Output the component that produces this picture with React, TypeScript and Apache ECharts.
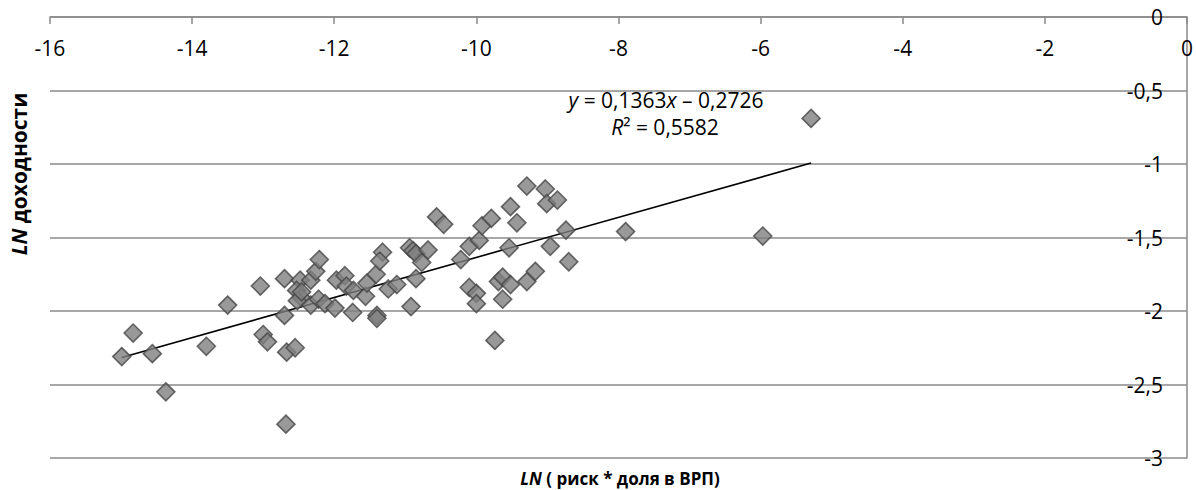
import React, { useEffect, useRef } from "react";
import * as echarts from "echarts";

// LN (риск * доля в ВРП)
const xValues = [
  -14.99, -14.83, -14.56, -14.37, -13.8, -13.5, -13.04, -13.0, -12.94, -12.7,
  -12.7, -12.67, -12.55, -12.68, -12.48, -12.53, -12.46, -12.52, -12.46, -12.33,
  -12.26, -12.21, -12.33, -12.22, -12.13, -11.99, -11.97, -11.85, -11.83, -11.73,
  -11.74, -11.56, -11.54, -11.41, -11.4, -11.4, -11.32, -11.36, -11.24, -11.12,
  -10.94, -10.89, -10.85, -10.68, -10.77, -10.85, -10.92, -10.56, -10.46, -10.22,
  -10.1, -9.96, -9.92, -9.79, -10.1, -10.0, -10.0, -9.69, -9.63, -9.52,
  -9.63, -9.74, -9.54, -9.52, -9.43, -9.29, -9.29, -9.17, -9.03, -9.01,
  -8.86, -8.96, -8.74, -8.7, -7.9, -5.97, -5.29,
];
// LN доходности
const yValues = [
  -2.31, -2.15, -2.29, -2.55, -2.24, -1.96, -1.83, -2.16, -2.21, -1.78,
  -2.03, -2.28, -2.25, -2.77, -1.79, -1.86, -1.91, -1.93, -1.87, -1.79,
  -1.73, -1.65, -1.96, -1.92, -1.95, -1.98, -1.79, -1.76, -1.83, -1.86,
  -2.01, -1.9, -1.81, -1.75, -2.03, -2.05, -1.6, -1.66, -1.85, -1.82,
  -1.57, -1.59, -1.61, -1.585, -1.67, -1.78, -1.97, -1.36, -1.41, -1.65,
  -1.56, -1.52, -1.42, -1.37, -1.84, -1.88, -1.95, -1.8, -1.77, -1.82,
  -1.92, -2.2, -1.57, -1.29, -1.4, -1.15, -1.8, -1.73, -1.17, -1.27,
  -1.245, -1.56, -1.45, -1.665, -1.46, -1.49, -0.69,
];

const trendSlope = 0.1363;
const trendIntercept = -0.2726;
const r2Text = "0,5582";

const FONT = "'Open Sans', sans-serif";
const GRID = "#8a8a8a";

export default function App() {
  const ref = useRef<HTMLDivElement>(null);

  useEffect(() => {
    const chart = echarts.init(ref.current!, null, { renderer: "svg" });
    const points = xValues.map((x, i) => [x, yValues[i]]);
    const xMin = Math.min(...xValues);
    const xMax = Math.max(...xValues);
    const trend = [
      [xMin, trendSlope * xMin + trendIntercept],
      [xMax, trendSlope * xMax + trendIntercept],
    ];
    const fmt = (v: number) => String(v).replace(".", ",");
    const italic = (size: number, bold = false) => ({
      fontStyle: "italic",
      fontWeight: bold ? "bold" : "normal",
      fontFamily: FONT,
      fontSize: size,
      fill: "#000",
    });

    chart.setOption({
      animation: false,
      backgroundColor: "#fff",
      grid: { left: 50, right: 9, top: 17, bottom: 32, containLabel: false },
      xAxis: {
        type: "value",
        position: "top",
        min: -16,
        max: 0,
        interval: 2,
        axisLine: { show: true, onZero: false, lineStyle: { color: GRID, width: 1.5 } },
        axisTick: { show: true, inside: true, length: 7, lineStyle: { color: GRID, width: 1.5 } },
        axisLabel: {
          inside: true,
          margin: 20,
          color: "#000",
          fontFamily: FONT,
          fontSize: 21,
          formatter: fmt,
        },
        splitLine: { show: false },
      },
      yAxis: {
        type: "value",
        position: "right",
        min: -3,
        max: 0,
        interval: 0.5,
        axisLine: { show: true, onZero: false, lineStyle: { color: GRID, width: 1.5 } },
        axisTick: { show: false },
        axisLabel: {
          inside: true,
          margin: 24,
          color: "#000",
          fontFamily: FONT,
          fontSize: 21,
          formatter: fmt,
        },
        splitLine: { show: true, lineStyle: { color: GRID, width: 1.5 } },
      },
      series: [
        {
          type: "line",
          data: trend,
          symbol: "none",
          lineStyle: { color: "#000", width: 1.6 },
          z: 3,
        },
        {
          type: "scatter",
          data: points,
          symbol: "diamond",
          symbolSize: 18,
          itemStyle: { color: "#7f7f7f", borderColor: "#464646", borderWidth: 1.6 },
          z: 4,
        },
      ],
      graphic: [
        {
          type: "text",
          x: 666,
          y: 100,
          style: {
            text: "{i|y} = 0,1363{i|x} – 0,2726",
            fill: "#000",
            font: `21px ${FONT}`,
            align: "center",
            verticalAlign: "middle",
            rich: { i: italic(21) },
          },
          z: 10,
        },
        {
          type: "text",
          x: 665,
          y: 127,
          style: {
            text: `{i|R}² = ${r2Text}`,
            fill: "#000",
            font: `21px ${FONT}`,
            align: "center",
            verticalAlign: "middle",
            rich: { i: italic(21) },
          },
          z: 10,
        },
        {
          type: "text",
          x: 620,
          y: 478,
          style: {
            text: "{i|LN} ( риск * доля в ВРП)",
            fill: "#000",
            font: `bold 17px ${FONT}`,
            align: "center",
            verticalAlign: "middle",
            rich: { i: italic(17, true) },
          },
        },
        {
          type: "text",
          x: 19,
          y: 174,
          rotation: Math.PI / 2,
          style: {
            text: "{i|LN} доходности",
            fill: "#000",
            font: `bold 21px ${FONT}`,
            align: "center",
            verticalAlign: "middle",
            rich: { i: italic(21, true) },
          },
        },
      ],
    });

    return () => chart.dispose();
  }, []);

  return (
    <div
      ref={ref}
      style={{ position: "fixed", left: 0, top: 0, width: 1196, height: 490, background: "#fff" }}
    />
  );
}
